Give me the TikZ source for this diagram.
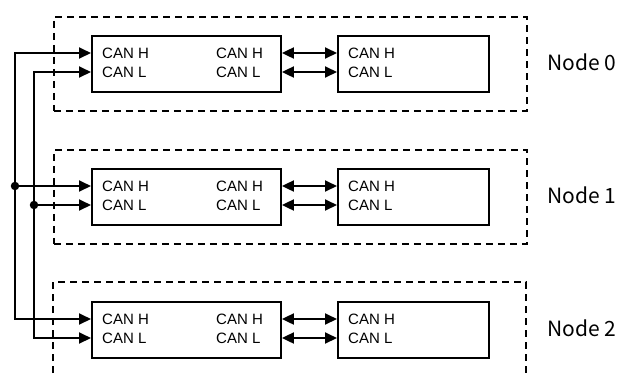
\documentclass[tikz,border=0pt]{standalone}
\usepackage{fontspec}
\setmainfont{Liberation Sans}
\newfontfamily\labelfont{Noto Sans CJK JP}
\usetikzlibrary{arrows.meta}
\begin{document}
\begin{tikzpicture}[x=1pt,y=-1pt,
  dashbox/.style={draw,line width=1.8pt,dash pattern=on 7pt off 5pt},
  unitbox/.style={draw,line width=1.9pt,rectangle,inner sep=0pt,minimum height=56pt,anchor=north west},
  sig/.style={line width=1.9pt},
  tipend/.style={-{Triangle[length=12pt,width=11pt]}},
  tipboth/.style={{Triangle[length=12pt,width=11pt]}-{Triangle[length=12pt,width=11pt]}},
  lbl/.style={font=\fontsize{15}{18}\selectfont,inner sep=0pt,anchor=west},
  nodelbl/.style={font=\labelfont\fontsize{21}{24}\selectfont,inner sep=0pt,anchor=west},
  dot/.style={circle,fill,inner sep=0pt,minimum size=8.5pt}]
\useasboundingbox (0,0) rectangle (620,373);

% dashed frames
\node[dashbox,minimum width=473pt,minimum height=94pt,anchor=north west,inner sep=0pt] (f0) at (53,16) {};
\node[dashbox,minimum width=473pt,minimum height=94pt,anchor=north west,inner sep=0pt] (f1) at (53,149) {};
\coordinate (f2a) at (53,373);
\coordinate (f2b) at (53,282);
\coordinate (f2c) at (526,282);
\coordinate (f2d) at (526,373);
\draw[dashbox] (f2a) -- (f2b) -- (f2c) -- (f2d);

\foreach \i/\off in {0/0,1/133,2/266}{
  \node[unitbox,minimum width=189pt] (a\i) at (91,35+\off) {};
  \node[unitbox,minimum width=151pt] (b\i) at (337,35+\off) {};
  \node[lbl] (ah\i) at (102,53+\off) {CAN H};
  \node[lbl] (al\i) at (102,72+\off) {CAN L};
  \node[lbl] (ar\i) at (216,53+\off) {CAN H};
  \node[lbl] (alr\i) at (216,72+\off) {CAN L};
  \node[lbl] (bh\i) at (348,53+\off) {CAN H};
  \node[lbl] (bl\i) at (348,72+\off) {CAN L};
  \coordinate (h\i) at (15,53+\off);
  \coordinate (l\i) at (34,72+\off);
  \draw[sig,tipboth] (h\i -| a\i.east) -- (h\i -| b\i.west);
  \draw[sig,tipboth] (l\i -| a\i.east) -- (l\i -| b\i.west);
  \node[nodelbl] (n\i) at (547,62+\off) {Node \i};
}

% bus lines
\draw[sig,tipboth] (h0 -| a0.west) -- (h0) -- (h2) -- (h2 -| a2.west);
\draw[sig,tipboth] (l0 -| a0.west) -- (l0) -- (l2) -- (l2 -| a2.west);
\draw[sig,tipend] (h1) -- (h1 -| a1.west);
\draw[sig,tipend] (l1) -- (l1 -| a1.west);
\node[dot] (d1) at (h1) {};
\node[dot] (d2) at (l1) {};
\end{tikzpicture}
\end{document}
